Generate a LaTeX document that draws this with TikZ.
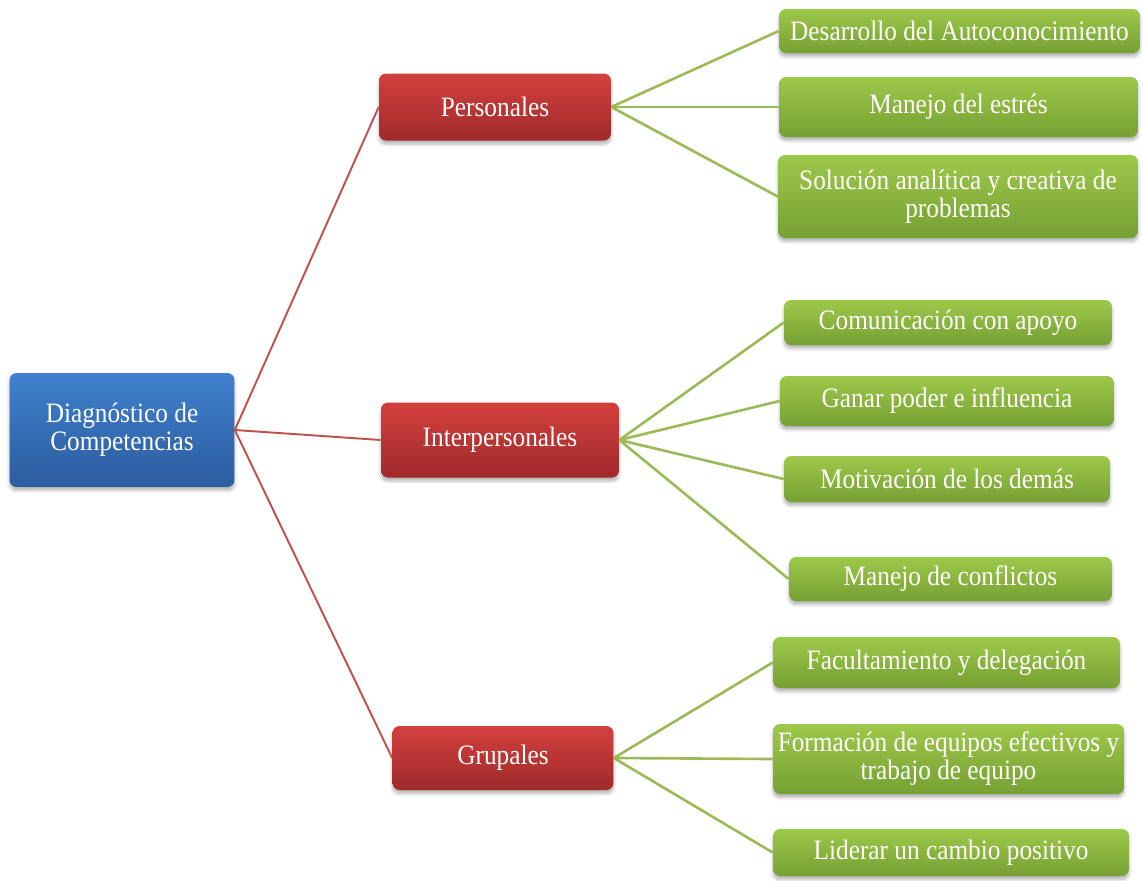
\documentclass[tikz,border=0pt]{standalone}
\usepackage{fontspec}
\setmainfont{Liberation Serif}[FakeStretch=0.9]
\usetikzlibrary{shadows.blur}

\definecolor{blueTop}{HTML}{3F80CE}
\definecolor{blueBot}{HTML}{2C5C9E}
\definecolor{redTop}{HTML}{D2403E}
\definecolor{redBot}{HTML}{A02A2A}
\definecolor{greenTop}{HTML}{9EC84A}
\definecolor{greenBot}{HTML}{76A032}
\definecolor{redLine}{HTML}{C0504D}
\definecolor{greenLine}{HTML}{9BBB59}

\tikzset{
  box/.style={rounded corners=4pt, text=white, align=center, inner sep=0pt,
    font=\fontsize{16}{16}\selectfont,
    blur shadow={shadow xshift=0pt, shadow yshift=-2pt, shadow blur steps=6, shadow opacity=30}},
  rootbox/.style={box, top color=blueTop, bottom color=blueBot},
  areabox/.style={box, top color=redTop, bottom color=redBot},
  skillbox/.style={box, top color=greenTop, bottom color=greenBot},
  redlink/.style={redLine, line width=1.1pt},
  greenlink/.style={greenLine, line width=1.5pt}
}

\begin{document}
\begin{tikzpicture}[x=0.02cm, y=-0.02cm]
\useasboundingbox (0,0) rectangle (1143,880);

% tronco
\node[rootbox, minimum width=4.5cm, minimum height=2.28cm] (diag) at (122,430)
  {Diagnóstico de\\Competencias};

% ramas
\node[areabox, minimum width=4.64cm, minimum height=1.34cm] (pers) at (495,107) {Personales};
\node[areabox, minimum width=4.76cm, minimum height=1.5cm] (inter) at (500,440) {Interpersonales};
\node[areabox, minimum width=4.42cm, minimum height=1.28cm] (grup) at (503,758) {Grupales};

% competencias personales
\node[skillbox, minimum width=7.22cm, minimum height=0.88cm] (p1) at (959.5,31) {Desarrollo del Autoconocimiento};
\node[skillbox, minimum width=7.18cm, minimum height=1.2cm] (p2) at (958.5,107) {Manejo del estrés};
\node[skillbox, minimum width=7.2cm, minimum height=1.66cm] (p3) at (958,196.5) {Solución analítica y creativa de\\problemas};

% competencias interpersonales
\node[skillbox, minimum width=6.56cm, minimum height=0.9cm] (i1) at (948,322.5) {Comunicación con apoyo};
\node[skillbox, minimum width=6.68cm, minimum height=1.0cm] (i2) at (947,401) {Ganar poder e influencia};
\node[skillbox, minimum width=6.52cm, minimum height=0.92cm] (i3) at (947,479) {Motivación de los demás};
\node[skillbox, minimum width=6.46cm, minimum height=0.88cm] (i4) at (950.5,579) {Manejo de conflictos};

% competencias grupales
\node[skillbox, minimum width=6.94cm, minimum height=1.02cm] (g1) at (946.5,662.5) {Facultamiento y delegación};
\node[skillbox, minimum width=7.02cm, minimum height=1.4cm] (g2) at (948.5,759) {Formación de equipos efectivos y\\trabajo de equipo};
\node[skillbox, minimum width=7.12cm, minimum height=0.94cm] (g3) at (951,852.5) {Liderar un cambio positivo};

% conexiones
\foreach \b in {pers,inter,grup}
  \draw[redlink] (diag.east) -- (\b.west);
\foreach \s in {p1,p2,p3}
  \draw[greenlink] (pers.east) -- (\s.west);
\foreach \s in {i1,i2,i3,i4}
  \draw[greenlink] (inter.east) -- (\s.west);
\foreach \s in {g1,g2,g3}
  \draw[greenlink] (grup.east) -- (\s.west);
\end{tikzpicture}
\end{document}
